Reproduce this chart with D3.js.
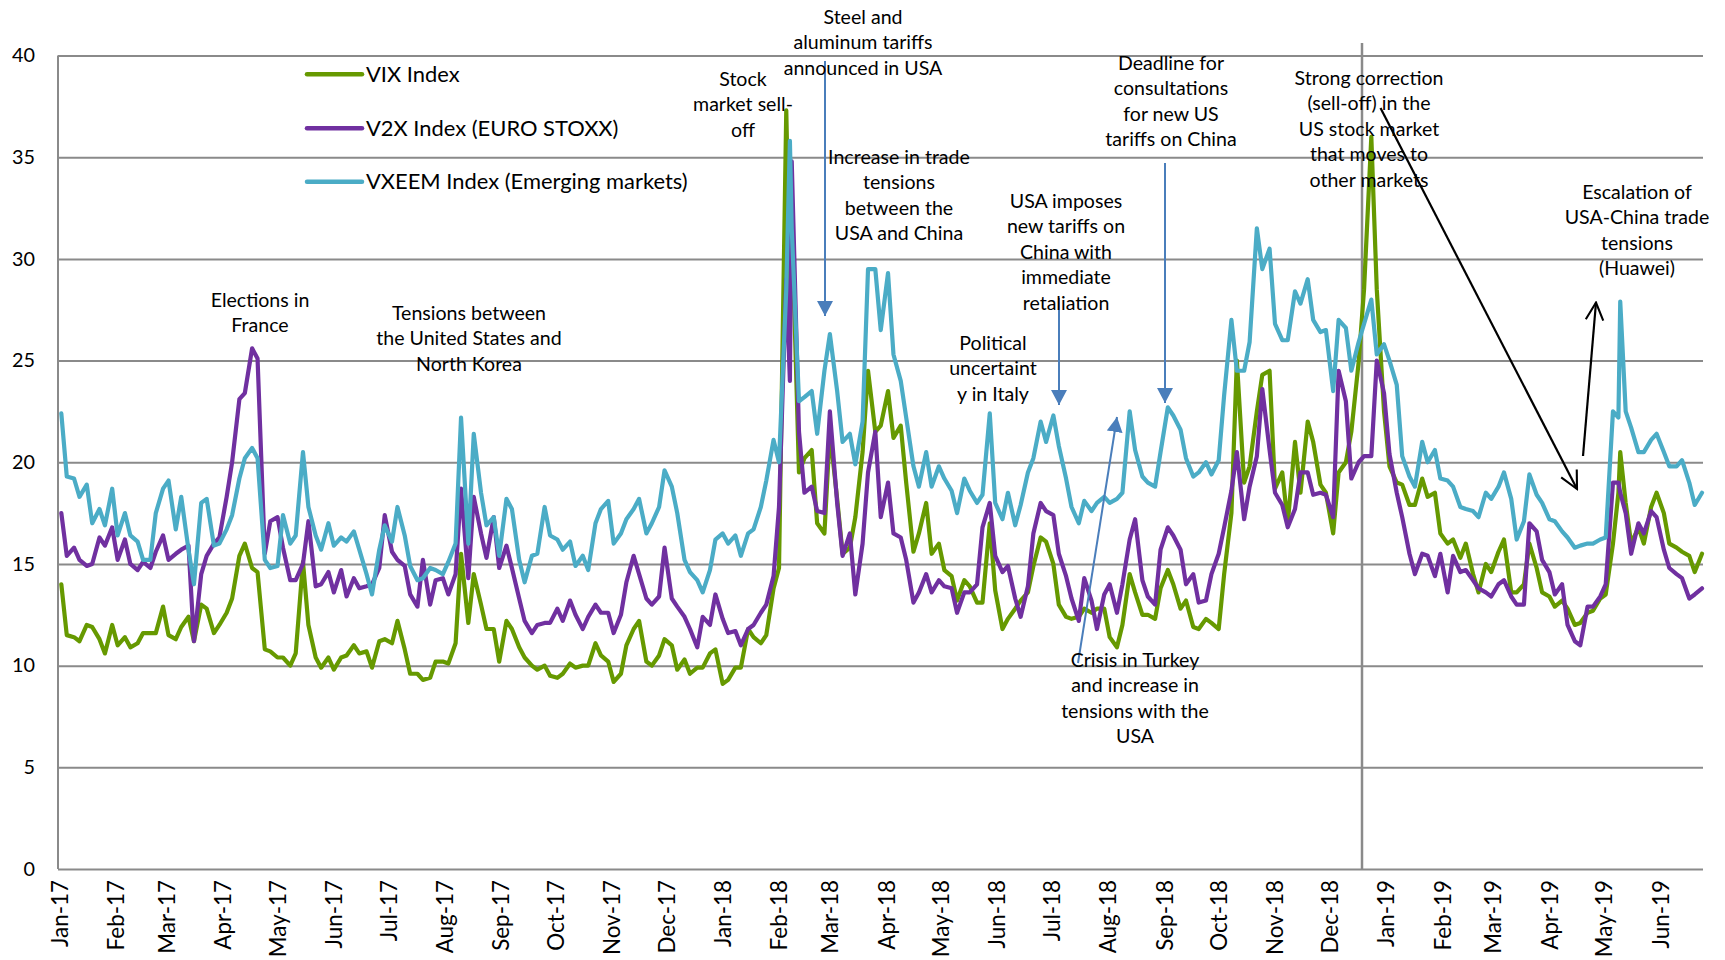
<!DOCTYPE html>
<html><head><meta charset="utf-8">
<script src="https://cdn.jsdelivr.net/npm/d3@7"></script>
<style>
html,body{margin:0;padding:0;background:#fff;}
svg{display:block;font-family:Lato,"Open Sans",sans-serif;}
</style></head><body>
<svg id="chart" width="1725" height="960"></svg>
<script>
// ---------------- DATA ----------------
const dates = [
"2017-01-02","2017-01-05","2017-01-09","2017-01-12","2017-01-16","2017-01-19","2017-01-23","2017-01-26","2017-01-30",
"2017-02-02","2017-02-06","2017-02-09","2017-02-13","2017-02-16","2017-02-20","2017-02-23","2017-02-27",
"2017-03-02","2017-03-06","2017-03-09","2017-03-13","2017-03-16","2017-03-20","2017-03-23","2017-03-27","2017-03-30",
"2017-04-03","2017-04-06","2017-04-10","2017-04-13","2017-04-17","2017-04-20","2017-04-24","2017-04-27",
"2017-05-01","2017-05-04","2017-05-08","2017-05-11","2017-05-15","2017-05-18","2017-05-22","2017-05-25","2017-05-29",
"2017-06-01","2017-06-05","2017-06-08","2017-06-12","2017-06-15","2017-06-19","2017-06-22","2017-06-26","2017-06-29",
"2017-07-03","2017-07-06","2017-07-10","2017-07-13","2017-07-17","2017-07-20","2017-07-24","2017-07-27","2017-07-31",
"2017-08-03","2017-08-07","2017-08-10","2017-08-14","2017-08-17","2017-08-21","2017-08-24","2017-08-28","2017-08-31",
"2017-09-04","2017-09-07","2017-09-11","2017-09-14","2017-09-18","2017-09-21","2017-09-25","2017-09-28",
"2017-10-02","2017-10-05","2017-10-09","2017-10-12","2017-10-16","2017-10-19","2017-10-23","2017-10-26","2017-10-30",
"2017-11-02","2017-11-06","2017-11-09","2017-11-13","2017-11-16","2017-11-20","2017-11-23","2017-11-27","2017-11-30",
"2017-12-04","2017-12-07","2017-12-11","2017-12-14","2017-12-18","2017-12-21","2017-12-25","2017-12-28",
"2018-01-01","2018-01-04","2018-01-08","2018-01-11","2018-01-15","2018-01-18","2018-01-22","2018-01-25","2018-01-29",
"2018-02-01","2018-02-05","2018-02-07","2018-02-08","2018-02-12","2018-02-15","2018-02-19","2018-02-22","2018-02-26",
"2018-03-01","2018-03-05","2018-03-08","2018-03-12","2018-03-15","2018-03-19","2018-03-22","2018-03-26","2018-03-29",
"2018-04-02","2018-04-05","2018-04-09","2018-04-12","2018-04-16","2018-04-19","2018-04-23","2018-04-26","2018-04-30",
"2018-05-03","2018-05-07","2018-05-10","2018-05-14","2018-05-17","2018-05-21","2018-05-24","2018-05-28","2018-05-31",
"2018-06-04","2018-06-07","2018-06-11","2018-06-14","2018-06-18","2018-06-21","2018-06-25","2018-06-28",
"2018-07-02","2018-07-05","2018-07-09","2018-07-12","2018-07-16","2018-07-19","2018-07-23","2018-07-26","2018-07-30",
"2018-08-02","2018-08-06","2018-08-09","2018-08-13","2018-08-16","2018-08-20","2018-08-23","2018-08-27","2018-08-30",
"2018-09-03","2018-09-06","2018-09-10","2018-09-13","2018-09-17","2018-09-20","2018-09-24","2018-09-27",
"2018-10-01","2018-10-04","2018-10-08","2018-10-11","2018-10-15","2018-10-18","2018-10-22","2018-10-25","2018-10-29",
"2018-11-01","2018-11-05","2018-11-08","2018-11-12","2018-11-15","2018-11-19","2018-11-22","2018-11-26","2018-11-29",
"2018-12-03","2018-12-06","2018-12-10","2018-12-13","2018-12-17","2018-12-20","2018-12-24","2018-12-27","2018-12-31",
"2019-01-03","2019-01-07","2019-01-10","2019-01-14","2019-01-17","2019-01-21","2019-01-24","2019-01-28","2019-01-31",
"2019-02-04","2019-02-07","2019-02-11","2019-02-14","2019-02-18","2019-02-21","2019-02-25","2019-02-28",
"2019-03-04","2019-03-07","2019-03-11","2019-03-14","2019-03-18","2019-03-21","2019-03-25","2019-03-28",
"2019-04-01","2019-04-04","2019-04-08","2019-04-11","2019-04-15","2019-04-18","2019-04-22","2019-04-25","2019-04-29",
"2019-05-02","2019-05-06","2019-05-09","2019-05-10","2019-05-13","2019-05-16","2019-05-20","2019-05-23","2019-05-27","2019-05-30",
"2019-06-03","2019-06-06","2019-06-10","2019-06-13","2019-06-17","2019-06-20","2019-06-24"
];

const vix = [
14.0,11.5,11.4,11.2,12.0,11.9,11.3,10.6,12.0,
11.0,11.4,10.9,11.1,11.6,11.6,11.6,12.9,
11.5,11.3,11.9,12.4,11.2,13.0,12.8,11.6,12.0,
12.6,13.3,15.4,16.0,14.8,14.6,10.8,10.7,
10.4,10.4,10.0,10.6,15.1,12.0,10.4,9.9,10.4,
9.8,10.4,10.5,11.0,10.6,10.7,9.9,11.2,11.3,
11.1,12.2,10.8,9.6,9.6,9.3,9.4,10.2,10.2,
10.1,11.1,15.5,12.1,14.5,13.0,11.8,11.8,10.2,
12.2,11.8,10.9,10.4,10.0,9.8,10.0,9.5,
9.4,9.6,10.1,9.9,10.0,10.0,11.1,10.5,10.2,
9.2,9.6,11.0,11.8,12.2,10.2,10.0,10.5,11.3,
11.0,9.8,10.3,9.6,9.9,9.9,10.6,10.8,
9.1,9.3,9.9,9.9,11.8,11.4,11.1,11.5,13.8,
14.8,37.3,28.5,32.0,19.5,20.2,20.6,17.0,16.5,
21.5,18.2,15.5,15.8,17.3,20.5,24.5,21.5,21.8,
23.5,21.2,21.8,19.0,15.6,16.5,18.0,15.5,16.0,
14.7,14.4,13.2,14.2,13.9,13.1,13.1,17.0,13.7,
11.8,12.3,12.8,13.2,13.6,14.9,16.3,16.1,
15.0,13.0,12.4,12.3,12.4,12.8,12.6,12.8,12.8,
11.4,10.9,12.0,14.5,13.6,12.5,12.5,12.3,13.8,
14.7,14.0,12.8,13.2,11.9,11.8,12.3,12.1,
11.8,14.5,17.5,25.0,19.0,19.8,22.5,24.3,24.5,
18.7,19.5,17.0,21.0,18.5,22.0,21.0,18.9,18.5,
16.5,19.5,20.0,21.5,24.9,28.5,36.0,28.5,22.5,
19.8,19.0,18.9,17.9,17.9,19.2,18.3,18.5,16.5,
16.0,16.2,15.3,16.0,14.5,13.6,15.0,14.6,
15.6,16.2,13.6,13.6,14.0,16.0,14.8,13.6,
13.4,12.9,13.2,12.8,12.0,12.1,12.6,12.7,13.3,
13.5,16.0,18.5,20.5,18.0,16.0,16.8,16.0,17.8,18.5,
17.5,16.0,15.8,15.6,15.4,14.6,15.5
];

const v2x = [
17.5,15.4,15.8,15.2,14.9,15.0,16.3,15.9,16.8,
15.2,16.2,15.0,14.7,15.1,14.8,15.6,16.4,
15.2,15.5,15.7,15.9,11.2,14.5,15.4,16.0,16.3,
18.3,20.0,23.1,23.4,25.6,25.1,15.5,17.1,
17.3,15.8,14.2,14.2,15.0,17.1,13.9,14.0,14.6,
13.6,14.7,13.4,14.3,13.8,13.9,14.0,14.8,17.4,
15.6,15.2,14.9,13.5,12.9,15.2,13.0,14.2,14.3,
13.5,14.5,18.7,14.3,18.3,16.5,15.3,17.3,14.8,
15.9,14.8,13.3,12.2,11.6,12.0,12.1,12.1,
12.8,12.2,13.2,12.5,11.8,12.4,13.0,12.6,12.6,
11.6,12.5,14.1,15.4,14.5,13.3,13.0,13.4,15.8,
13.3,12.9,12.4,11.8,10.9,12.4,12.0,13.5,
12.3,11.6,11.7,11.0,11.8,12.0,12.6,13.0,14.4,
17.8,29.0,24.0,34.8,21.5,18.5,18.8,17.6,17.5,
22.5,18.0,15.4,16.5,13.5,16.0,19.5,21.5,17.3,
19.0,16.5,16.3,15.2,13.1,13.6,14.5,13.6,14.2,
13.9,13.8,12.6,13.6,13.6,14.0,16.8,18.0,15.4,
14.6,14.9,13.3,12.4,13.9,16.5,18.0,17.6,
17.4,15.5,14.4,13.3,12.2,14.3,13.2,11.8,13.5,
14.0,12.6,14.0,16.2,17.2,14.2,13.4,13.0,15.7,
16.8,16.4,15.7,14.0,14.5,13.1,13.2,14.5,
15.5,16.8,18.6,20.5,17.2,18.8,20.3,23.6,20.6,
18.5,17.9,16.8,17.7,19.5,19.5,18.4,18.5,18.4,
17.3,24.5,23.0,19.2,20.0,20.3,20.3,25.0,23.4,
20.4,18.5,17.3,15.5,14.5,15.5,15.4,14.4,15.5,
13.6,15.4,14.6,14.7,14.2,13.8,13.6,13.4,
14.0,14.2,13.4,13.0,13.0,17.0,16.6,15.2,
14.6,13.5,14.0,12.0,11.2,11.0,12.9,12.9,13.4,
14.0,19.0,19.0,18.5,17.5,15.5,17.0,16.5,17.6,17.3,
15.7,14.8,14.5,14.3,13.3,13.5,13.8
];

const vxeem = [
22.4,19.3,19.2,18.3,18.9,17.0,17.7,16.9,18.7,
16.4,17.5,16.4,16.1,15.2,15.2,17.5,18.7,
19.1,16.7,18.3,15.7,14.0,18.0,18.2,15.9,16.0,
16.7,17.4,19.2,20.2,20.7,20.2,15.2,14.8,
14.9,17.4,16.0,16.4,20.5,17.8,16.4,15.7,17.0,
15.9,16.3,16.1,16.6,15.7,14.5,13.5,15.7,16.9,
16.1,17.8,16.4,14.9,14.2,14.3,14.8,14.7,14.5,
15.1,16.0,22.2,16.0,21.4,18.5,16.9,17.3,15.4,
18.2,17.7,15.2,14.1,15.4,15.5,17.8,16.4,
16.2,15.7,16.1,14.9,15.4,14.7,17.0,17.7,18.1,
16.0,16.5,17.2,17.7,18.2,16.5,17.0,17.8,19.6,
18.8,17.5,15.2,14.6,14.2,13.6,14.7,16.2,
16.5,16.0,16.4,15.4,16.5,16.7,17.8,19.1,21.1,
20.0,28.5,35.8,31.5,23.0,23.2,23.5,21.4,24.5,
26.3,23.5,21.0,21.4,19.9,22.0,29.5,29.5,26.5,
29.3,25.3,24.0,22.2,19.8,18.8,20.5,18.8,19.8,
19.2,18.6,17.5,19.2,18.6,18.0,18.4,22.4,18.0,
17.2,18.5,16.9,17.9,19.5,20.2,22.0,21.0,
22.3,20.8,19.2,17.8,17.0,18.1,17.6,18.0,18.3,
18.0,18.2,18.5,22.5,20.6,19.3,19.0,18.8,20.5,
22.7,22.3,21.6,20.2,19.3,19.5,20.0,19.4,
20.1,23.3,27.0,24.5,24.5,25.9,31.5,29.5,30.5,
26.8,26.0,26.0,28.4,27.8,29.0,27.0,26.4,26.5,
23.5,27.0,26.6,24.5,25.9,26.8,28.0,25.3,25.8,
25.0,23.8,20.3,19.3,18.8,21.0,20.0,20.6,19.2,
19.1,18.8,17.8,17.7,17.6,17.3,18.5,18.2,
18.8,19.5,18.2,16.2,17.1,19.4,18.4,18.0,
17.2,17.1,16.6,16.3,15.8,15.9,16.0,16.0,16.2,
16.3,22.5,22.2,27.9,22.5,21.7,20.5,20.5,21.1,21.4,
20.5,19.8,19.8,20.1,19.0,17.9,18.5
];

const seriesNames = ["VIX Index", "V2X Index (EURO STOXX)", "VXEEM Index (Emerging markets)"];
const seriesColors = ["#669900", "#7030a0", "#4bacc6"];
const yTicks = [0, 5, 10, 15, 20, 25, 30, 35, 40];
const monthLabels = ["Jan-17","Feb-17","Mar-17","Apr-17","May-17","Jun-17","Jul-17","Aug-17","Sep-17","Oct-17","Nov-17","Dec-17",
  "Jan-18","Feb-18","Mar-18","Apr-18","May-18","Jun-18","Jul-18","Aug-18","Sep-18","Oct-18","Nov-18","Dec-18",
  "Jan-19","Feb-19","Mar-19","Apr-19","May-19","Jun-19"];
const noteTexts = [
  ["Elections in","France"],
  ["Tensions between","the United States and","North Korea"],
  ["Stock","market sell-","off"],
  ["Steel and","aluminum tariffs","announced in USA"],
  ["Increase in trade","tensions","between the","USA and China"],
  ["Political","uncertaint","y in Italy"],
  ["USA imposes","new tariffs on","China with","immediate","retaliation"],
  ["Deadline for","consultations","for new US","tariffs on China"],
  ["Strong correction","(sell-off) in the","US stock market","that moves to","other markets"],
  ["Escalation of","USA-China trade","tensions","(Huawei)"],
  ["Crisis in Turkey","and increase in","tensions with the","USA"]
];

// ---------------- LAYOUT ----------------
const L = {left:58, right:1703, top:55.5, bottom:869, x0:59.5, x1:1702};
const notePos = [[260,300],[469,313],[743,79],[863,17],[899,157],[993,343],[1066,201],[1171,63],[1369,78],[1637,192],[1135,660]];
const blueArrows = [[825,61,825,316],[1059,298,1059,405],[1165,163,1165,403],[1078,663,1117,417]];
const blackArrows = [[1380.5,108,1577,489],[1583,456,1596,302.5]];
const gridColor = "#8a8a8a";

const svg = d3.select("#chart");
const parse = d3.timeParse("%Y-%m-%d");
const parseMonth = d3.timeParse("%b-%y");
const dts = dates.map(parse);
const x = d3.scaleTime().domain([parse("2017-01-01"), parse("2019-06-24")]).range([L.x0, L.x1]);
const y = d3.scaleLinear().domain([0, 40]).range([L.bottom, L.top]);

// fit font size helper
function fitSize(str, target, base){
  const t = svg.append("text").attr("font-size", base).text(str);
  const w = t.node().getComputedTextLength();
  t.remove();
  return base * target / w;
}
const fsY = fitSize("40", 23, 20);
const fsX = fitSize("Jan-17", 67, 20);
const fsLeg = fitSize("VXEEM Index (Emerging markets)", 322, 20);
const fsNote = fitSize("Strong correction", 149, 20);

// y gridlines + labels
const gy = svg.append("g").attr("transform", `translate(${L.left},0)`)
  .call(d3.axisLeft(y).tickValues(yTicks).tickSize(-(L.right - L.left)).tickPadding(23));
gy.select(".domain").remove();
gy.selectAll(".tick line").attr("stroke", gridColor).attr("stroke-width", 2);
gy.selectAll(".tick text").attr("font-size", fsY).attr("font-family", "Lato").attr("fill", "#000");
// left axis line
svg.append("line").attr("x1", L.left).attr("x2", L.left).attr("y1", L.top).attr("y2", L.bottom)
  .attr("stroke", gridColor).attr("stroke-width", 2);

// x axis labels
const monthDates = monthLabels.map(parseMonth);
const gx = svg.append("g").attr("transform", `translate(0,${L.bottom})`)
  .call(d3.axisBottom(x).tickValues(monthDates).tickSize(0).tickFormat((d, i) => monthLabels[i]));
gx.select(".domain").remove();
gx.selectAll(".tick text").attr("font-size", fsX).attr("font-family", "Lato").attr("fill", "#000")
  .attr("transform", "rotate(-90)").attr("text-anchor", "end").attr("x", -11).attr("y", 0).attr("dy", "0.35em");

// vertical marker line (Dec 2018)
svg.append("line").attr("x1", 1362).attr("x2", 1362).attr("y1", 43).attr("y2", L.bottom)
  .attr("stroke", gridColor).attr("stroke-width", 2.5);

// series lines
const series = [vix, v2x, vxeem];
const n = Math.min(dts.length, vix.length, v2x.length, vxeem.length);
const line = d3.line().x(d => x(d[0])).y(d => y(d[1]));
series.forEach((s, k) => {
  const pts = d3.range(n).map(i => [dts[i], s[i]]);
  svg.append("path").datum(pts).attr("d", line).attr("fill", "none")
    .attr("stroke", seriesColors[k]).attr("stroke-width", 4.2)
    .attr("stroke-linejoin", "round").attr("stroke-linecap", "round");
});

// legend
const legY = [74.3, 128.3, 181.7];
seriesNames.forEach((name, k) => {
  svg.append("line").attr("x1", 307).attr("x2", 362).attr("y1", legY[k]).attr("y2", legY[k])
    .attr("stroke", seriesColors[k]).attr("stroke-width", 4.5).attr("stroke-linecap", "round");
  svg.append("text").attr("x", 366).attr("y", legY[k]).attr("dy", "0.35em")
    .attr("font-size", fsLeg).attr("fill", "#000").text(name);
});

// arrow markers
const defs = svg.append("defs");
defs.append("marker").attr("id", "triBlue").attr("viewBox", "0 0 15 16")
  .attr("markerUnits", "userSpaceOnUse").attr("markerWidth", 15).attr("markerHeight", 16)
  .attr("refX", 15).attr("refY", 8).attr("orient", "auto")
  .append("path").attr("d", "M0,0 L15,8 L0,16 Z").attr("fill", "#4a7ebb");
defs.append("marker").attr("id", "openBlack").attr("viewBox", "-1 -1 12 12")
  .attr("markerUnits", "userSpaceOnUse").attr("markerWidth", 21).attr("markerHeight", 21)
  .attr("refX", 10).attr("refY", 5).attr("orient", "auto")
  .append("path").attr("d", "M0,0 L10,5 L0,10").attr("fill", "none")
  .attr("stroke", "#000").attr("stroke-width", 1.2).attr("stroke-linejoin", "miter");

blueArrows.forEach(a => {
  svg.append("line").attr("x1", a[0]).attr("y1", a[1]).attr("x2", a[2]).attr("y2", a[3])
    .attr("stroke", "#4a7ebb").attr("stroke-width", 2).attr("marker-end", "url(#triBlue)");
});
blackArrows.forEach(a => {
  svg.append("line").attr("x1", a[0]).attr("y1", a[1]).attr("x2", a[2]).attr("y2", a[3])
    .attr("stroke", "#000").attr("stroke-width", 2.2).attr("marker-end", "url(#openBlack)");
});

// annotations
noteTexts.forEach((lines, k) => {
  const t = svg.append("text").attr("text-anchor", "middle").attr("font-size", fsNote).attr("fill", "#000");
  lines.forEach((ln, j) => {
    t.append("tspan").attr("x", notePos[k][0]).attr("y", notePos[k][1] + j * 25.5).attr("dy", "0.35em").text(ln);
  });
});
</script>
</body></html>
